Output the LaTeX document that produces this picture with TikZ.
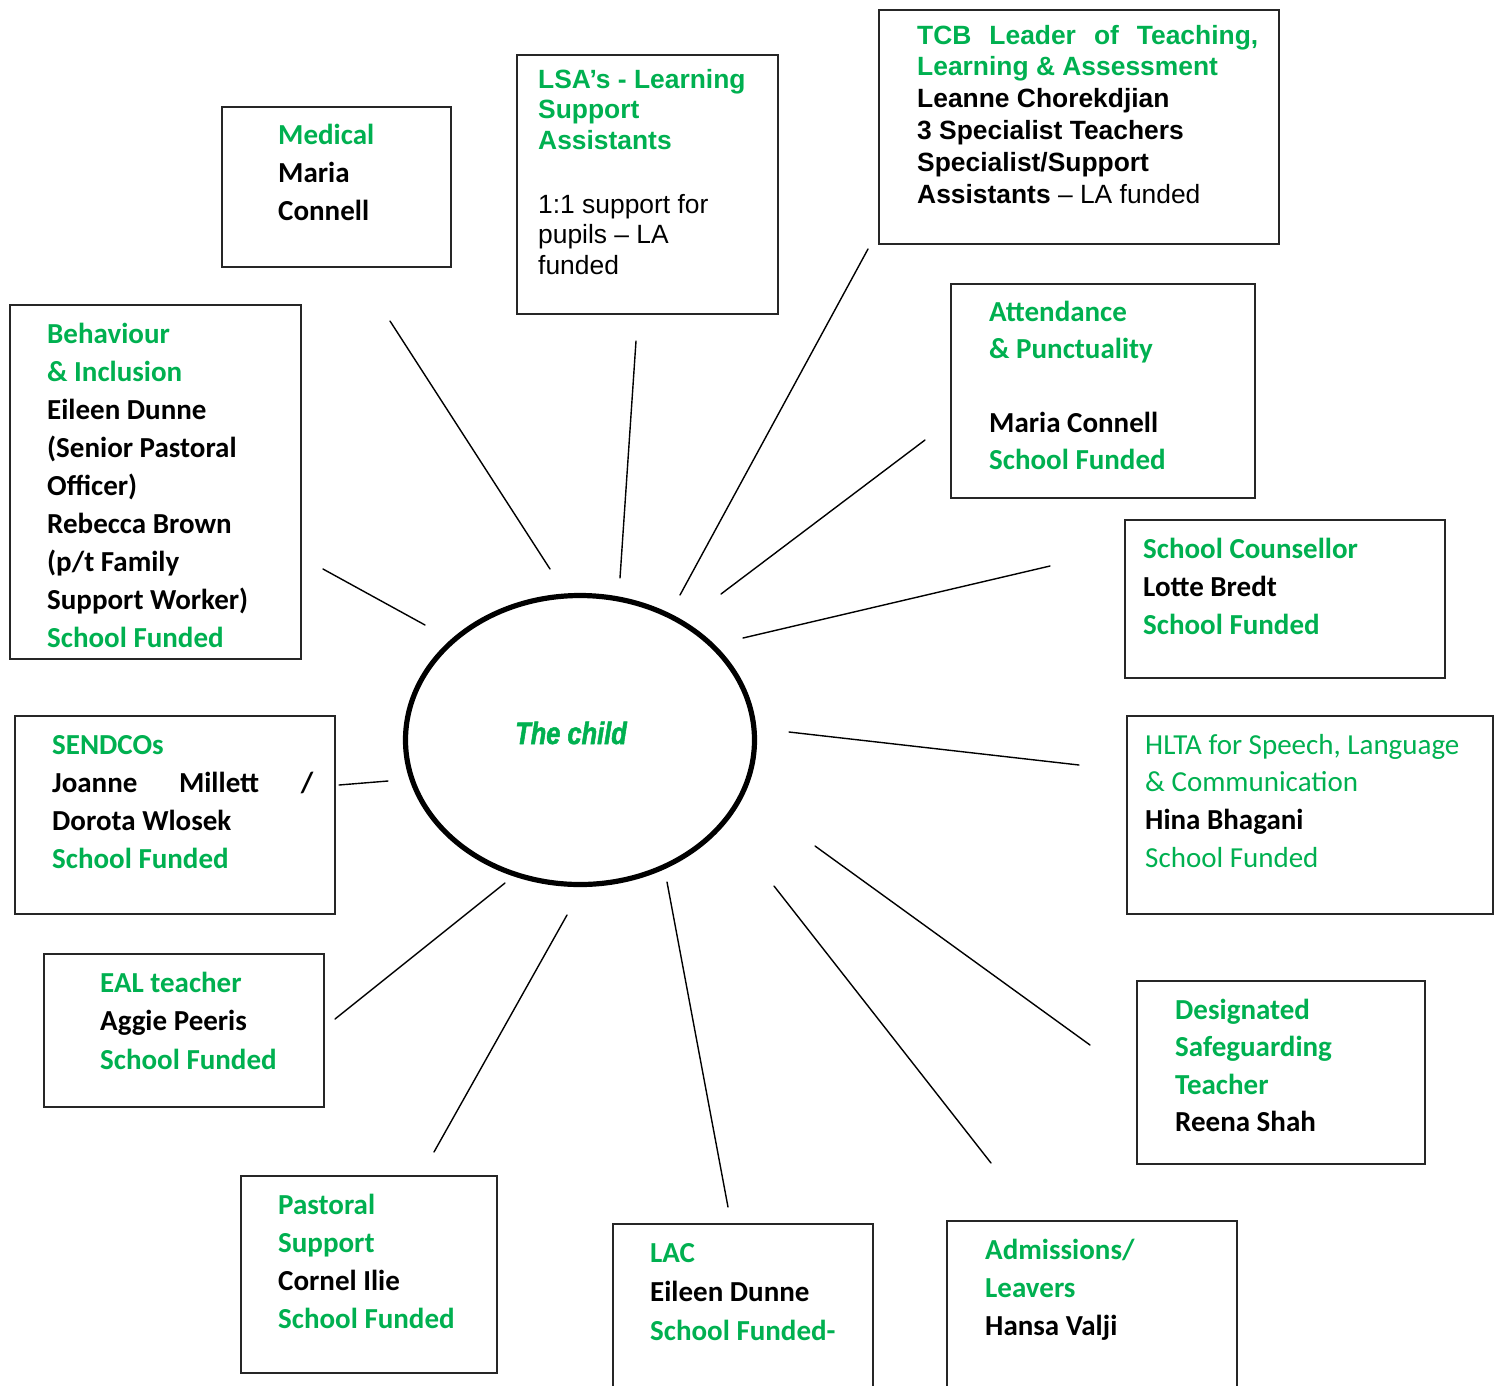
\documentclass[tikz,border=0pt]{standalone}
\usepackage{fontspec}
\setmainfont{Carlito}
\newfontfamily\arialf{Liberation Sans}
\newfontfamily\childf[UprightFont={* Bold Italic}, FakeStretch=0.82, FakeBold=1.6]{Liberation Sans}
\usetikzlibrary{shapes.geometric}
\definecolor{grn}{HTML}{00B050}
\newcommand{\gtext}[1]{\textcolor{grn}{#1}}
\tikzset{
  box/.style={draw=black!85, line width=1.5pt, rectangle, inner sep=0pt, anchor=north west},
  txt/.style={inner sep=0pt, anchor=base west, font=\fontsize{29}{38}\selectfont\bfseries},
  atxt/.style={inner sep=0pt, anchor=base west, font=\arialf\fontsize{26.4}{30.5}\selectfont},
  conn/.style={line width=1.4pt, line cap=round},
}
\newcommand{\tb}[2]{\parbox[t]{#1}{\raggedright #2}}
\begin{document}
\begin{tikzpicture}[x=1pt,y=-1pt]
\useasboundingbox (0,0) rectangle (1501,1385);

% centre
\node[ellipse, draw, line width=5.2pt, minimum width=349pt, minimum height=289pt, inner sep=0pt] (child) at (580,740) {};
\node[inner sep=0pt, anchor=base, font=\childf\fontsize{31}{36}\selectfont, text=grn] (childt) at (571,744) {The child};

% Medical
\node[box, minimum width=229pt, minimum height=160pt] (med) at (221,106) {};
\node[txt] (medt) at (278,144) {\tb{160pt}{\gtext{Medical}\\Maria\\Connell}};

% LSA
\node[box, minimum width=261pt, minimum height=259pt] (lsa) at (516,54) {};
\node[atxt] (lsat) at (538,88) {\tb{235pt}{\bfseries\gtext{LSA’s - Learning}\\\gtext{Support}\\\gtext{Assistants}\\[3pt]\mbox{}\\\mdseries 1:1 support for\\pupils – LA\\funded}};

% TCB
\node[box, minimum width=400pt, minimum height=234pt] (tcb) at (878,9) {};
\node[atxt, font=\arialf\fontsize{26.4}{31.8}\selectfont] (tcbt) at (917,44) {\tb{360pt}{\bfseries\gtext{\makebox[341pt][s]{TCB Leader of Teaching,}}\\\gtext{Learning \& Assessment}\\Leanne Chorekdjian\\3 Specialist Teachers\\Specialist/Support\\Assistants \mdseries– LA funded}};

% Attendance
\node[box, minimum width=304pt, minimum height=214pt] (att) at (950,283) {};
\node[txt, font=\fontsize{29}{37}\selectfont\bfseries] (attt) at (989,321) {\tb{260pt}{\gtext{Attendance}\\\gtext{\& Punctuality}\\\mbox{}\\Maria Connell\\\gtext{School Funded}}};

% Behaviour
\node[box, minimum width=291pt, minimum height=354pt] (beh) at (9,304) {};
\node[txt, font=\fontsize{29}{38.1}\selectfont\bfseries] (beht) at (47,343) {\tb{250pt}{\gtext{Behaviour}\\\gtext{\& Inclusion}\\Eileen Dunne\\(Senior Pastoral\\Officer)\\Rebecca Brown\\(p/t Family\\Support Worker)\\\gtext{School Funded}}};

% School Counsellor
\node[box, minimum width=320pt, minimum height=158pt] (cou) at (1124,519) {};
\node[txt] (cout) at (1143,558) {\tb{290pt}{\gtext{School Counsellor}\\Lotte Bredt\\\gtext{School Funded}}};

% SENDCOs
\node[box, minimum width=320pt, minimum height=198pt] (sen) at (14,715) {};
\node[txt] (sent) at (52,754) {\tb{280pt}{\gtext{SENDCOs}\\\makebox[261pt][s]{Joanne Millett /}\\Dorota Wlosek\\\gtext{School Funded}}};

% HLTA
\node[box, minimum width=366pt, minimum height=198pt] (hlta) at (1126,715) {};
\node[txt, font=\fontsize{29}{38}\selectfont\mdseries] (hltat) at (1145,754) {\tb{345pt}{\gtext{HLTA for Speech, Language}\\[-1pt]\gtext{\& Communication}\\\textbf{Hina Bhagani}\\\gtext{School Funded}}};

% EAL
\node[box, minimum width=280pt, minimum height=153pt] (eal) at (43,953) {};
\node[txt, font=\fontsize{29}{38.5}\selectfont\bfseries] (ealt) at (100,992) {\tb{220pt}{\gtext{EAL teacher}\\Aggie Peeris\\\gtext{School Funded}}};

% Designated Safeguarding
\node[box, minimum width=288pt, minimum height=183pt] (dsl) at (1136,980) {};
\node[txt, font=\fontsize{29}{37.5}\selectfont\bfseries] (dslt) at (1175,1019) {\tb{240pt}{\gtext{Designated}\\\gtext{Safeguarding}\\\gtext{Teacher}\\Reena Shah}};

% Pastoral
\node[box, minimum width=256pt, minimum height=197pt] (pas) at (240,1175) {};
\node[txt, font=\fontsize{29}{38.3}\selectfont\bfseries] (past) at (278,1214) {\tb{215pt}{\gtext{Pastoral}\\\gtext{Support}\\Cornel Ilie\\\gtext{School Funded}}};

% LAC
\node[box, minimum width=260pt, minimum height=200pt] (lac) at (612,1223) {};
\node[txt, font=\fontsize{29}{39}\selectfont\bfseries] (lact) at (650,1262) {\tb{215pt}{\gtext{LAC}\\Eileen Dunne\\\gtext{School Funded-}}};

% Admissions
\node[box, minimum width=290pt, minimum height=200pt] (adm) at (946,1220) {};
\node[txt, font=\fontsize{29}{38}\selectfont\bfseries] (admt) at (985,1259) {\tb{240pt}{\gtext{Admissions/}\\\gtext{Leavers}\\Hansa Valji}};

% connector end points
\coordinate (c1a) at (390,321);  \coordinate (c1b) at (550,569);
\coordinate (c2a) at (636,341);  \coordinate (c2b) at (620,578);
\coordinate (c3a) at (868,249);  \coordinate (c3b) at (680,595);
\coordinate (c4a) at (925,440);  \coordinate (c4b) at (721,594);
\coordinate (c5a) at (323,569);  \coordinate (c5b) at (425,625);
\coordinate (c6a) at (1050,566); \coordinate (c6b) at (743,638);
\coordinate (c7a) at (1079,765); \coordinate (c7b) at (789,732);
\coordinate (c8a) at (339,785);  \coordinate (c8b) at (388,781);
\coordinate (c9a) at (335,1019); \coordinate (c9b) at (505,883);
\coordinate (c10a) at (1090,1045); \coordinate (c10b) at (815,846);
\coordinate (c11a) at (434,1152); \coordinate (c11b) at (567,915);
\coordinate (c12a) at (728,1207); \coordinate (c12b) at (667,882);
\coordinate (c13a) at (991,1163); \coordinate (c13b) at (774,886);

\foreach \i in {1,...,13} { \draw[conn] (c\i a) -- (c\i b); }
\end{tikzpicture}
\end{document}
